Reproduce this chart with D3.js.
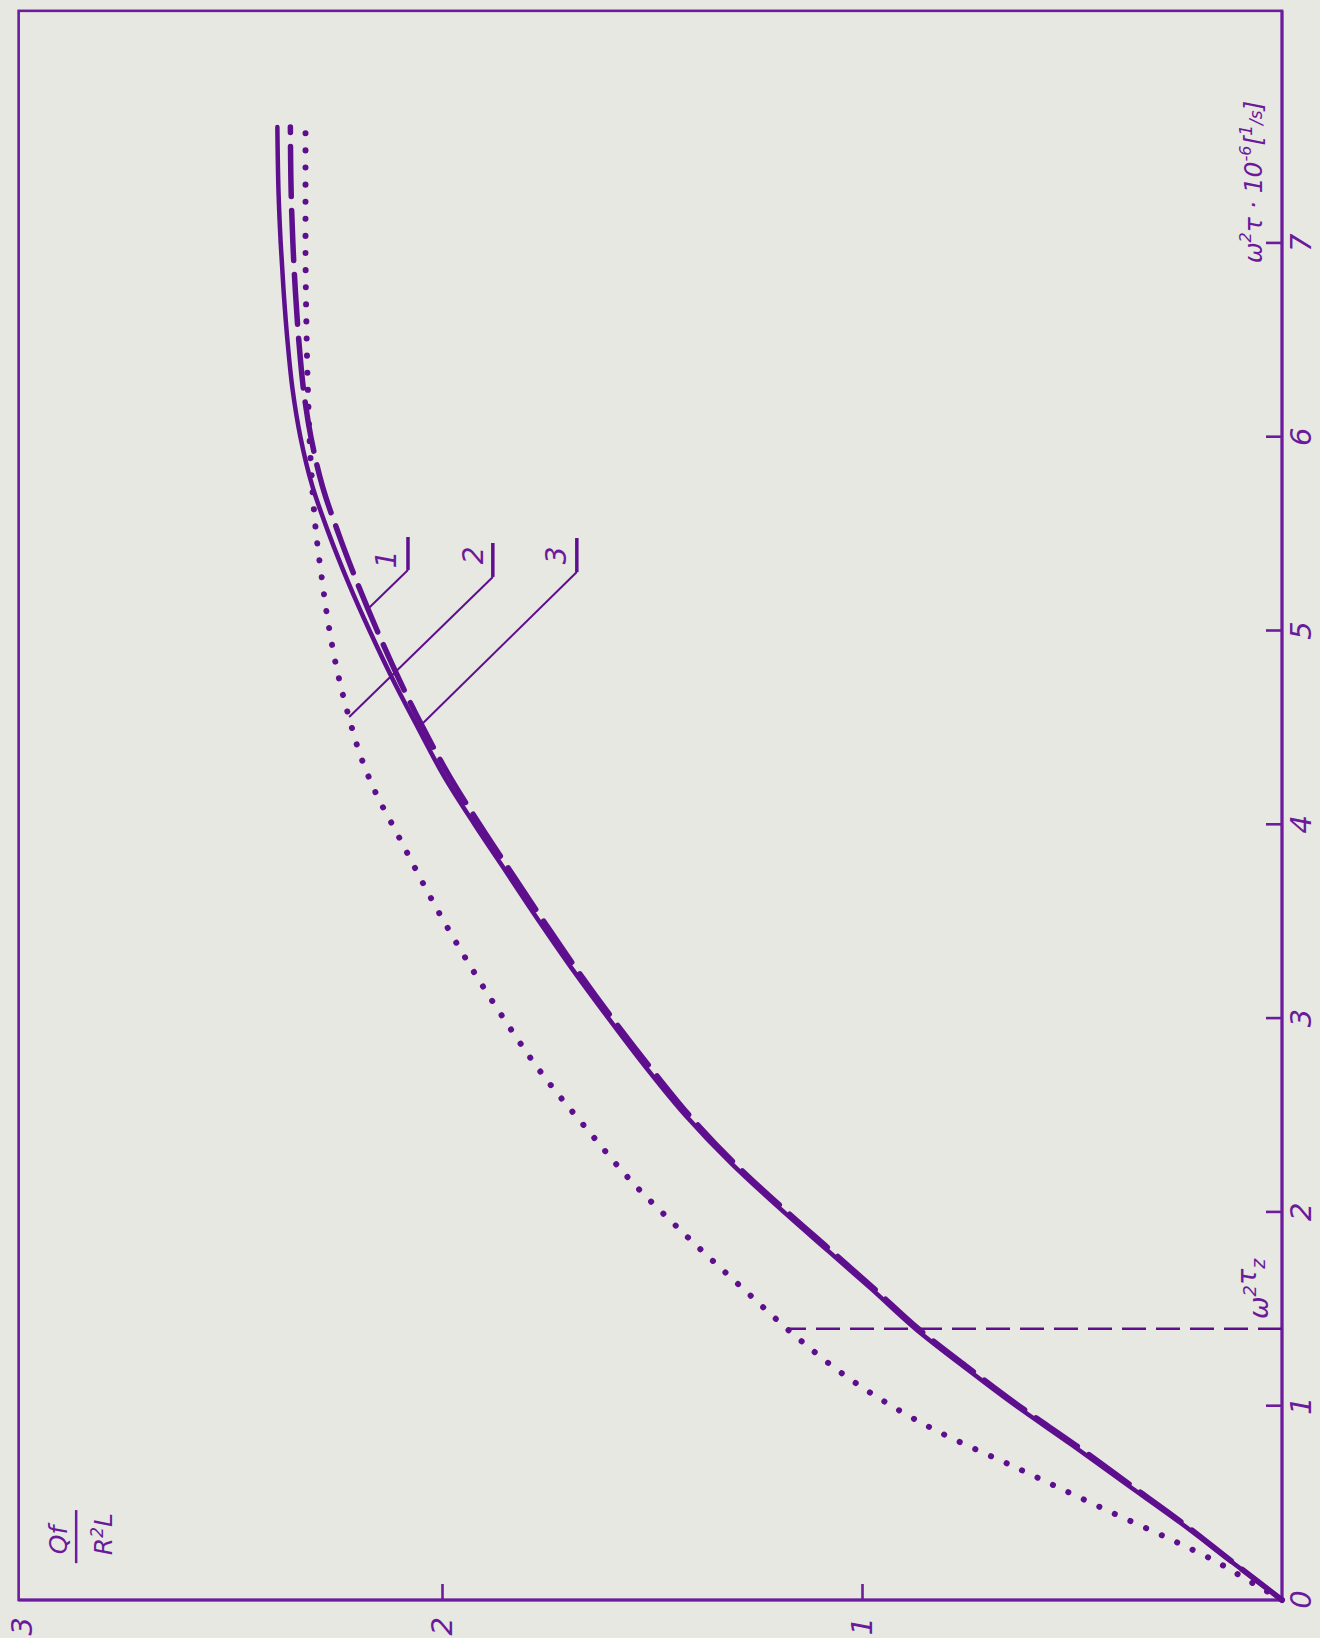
<!DOCTYPE html>
<html>
<head>
<meta charset="utf-8">
<script src="https://cdn.jsdelivr.net/npm/d3@7"></script>
<style>
  html, body { margin: 0; padding: 0; background: #e8e8e3; }
  svg { display: block; }
  text { font-family: "DejaVu Sans", sans-serif; font-style: italic; fill: #6a1a9a; }
</style>
</head>
<body>
<svg id="chart" width="1320" height="1638"></svg>
<script>
// ---- data (x: ω²τ·10⁻⁶ [1/s], y: Qf / R²L) ----
const xTicks = [0, 1, 2, 3, 4, 5, 6, 7];
const yTicks = [1, 2, 3];
const xTickLabels = ["0", "1", "2", "3", "4", "5", "6", "7"];
const yTickLabels = ["1", "2", "3"];

const solidCurve = [
  [0, 0], [0.2, 0.122], [0.4, 0.243], [0.6, 0.372], [0.8, 0.5], [1.0, 0.632],
  [1.2, 0.755], [1.4, 0.873], [1.6, 0.975], [1.8, 1.08], [2.0, 1.185],
  [2.25, 1.31], [2.5, 1.42], [2.75, 1.515], [3.0, 1.603], [3.25, 1.688],
  [3.5, 1.768], [3.75, 1.845], [4.0, 1.922], [4.25, 1.995], [4.5, 2.057],
  [4.75, 2.117], [5.0, 2.172], [5.25, 2.223], [5.5, 2.269], [5.75, 2.309],
  [6.0, 2.337], [6.25, 2.356], [6.5, 2.368], [6.75, 2.377], [7.0, 2.384],
  [7.25, 2.389], [7.6, 2.392]
];
const dashedCurve = [
  [0, 0], [0.2, 0.12], [0.4, 0.238], [0.6, 0.365], [0.8, 0.492], [1.0, 0.625],
  [1.2, 0.748], [1.4, 0.866], [1.6, 0.968], [1.8, 1.072], [2.0, 1.177],
  [2.25, 1.302], [2.5, 1.411], [2.75, 1.505], [3.0, 1.594], [3.25, 1.678],
  [3.5, 1.757], [3.75, 1.834], [4.0, 1.91], [4.25, 1.982], [4.5, 2.045],
  [4.75, 2.102], [5.0, 2.154], [5.25, 2.202], [5.5, 2.246], [5.75, 2.285],
  [6.0, 2.312], [6.25, 2.33], [6.5, 2.341], [6.75, 2.349], [7.0, 2.355],
  [7.25, 2.359], [7.6, 2.361]
];
const dottedCurve = [
  [0, 0], [0.1, 0.08], [0.21, 0.167], [0.29, 0.243], [0.475, 0.429], [0.68, 0.63],
  [0.877, 0.826], [1.115, 1.012], [1.35, 1.152], [1.6, 1.28], [1.92, 1.438],
  [2.13, 1.536], [2.43, 1.655], [2.71, 1.76], [3.03, 1.862], [3.5, 1.995],
  [4.0, 2.118], [4.13, 2.15], [4.35, 2.193], [4.55, 2.221], [4.79, 2.249],
  [5.03, 2.27], [5.27, 2.286], [5.51, 2.3], [5.85, 2.312], [6.22, 2.319],
  [6.6, 2.323], [7.0, 2.325], [7.6, 2.325]
];

// marker ω²τz
const omegaTauZ = 1.4;
const omegaTauZTop = 1.176;

// curve labels with leader lines
const curveLabels = [
  { label: "1", top: [5.485, 2.081], bottom: [5.315, 2.081], end: [5.108, 2.179], text: [5.37, 2.133] },
  { label: "2", top: [5.454, 1.879], bottom: [5.279, 1.879], end: [4.556, 2.221], text: [5.39, 1.926] },
  { label: "3", top: [5.48, 1.679], bottom: [5.304, 1.679], end: [4.525, 2.045], text: [5.39, 1.729] }
];

const xMax = 8.2;   // frame extent along x
const yMax = 3.008; // frame extent along y

// ---- layout ----
const C = "#5e0f8e";
const CF = "#6c1c9c";
const originPX = 1282, originPY = 1600;

const svg = d3.select("#chart");
svg.append("rect").attr("width", 1320).attr("height", 1638).attr("fill", "#e8e8e3");

// chart drawn in normal orientation, rotated -90° as in the original
const g = svg.append("g").attr("transform", `translate(${originPX},${originPY}) rotate(-90)`);

const x = d3.scaleLinear().domain([0, 7]).range([0, 1356.6]);
const y = d3.scaleLinear().domain([0, 2]).range([0, -840]);

// frame
g.append("rect")
  .attr("x", 0).attr("y", y(yMax))
  .attr("width", x(xMax)).attr("height", -y(yMax))
  .attr("fill", "none").attr("stroke", CF).attr("stroke-width", 2.6);
g.append("line").attr("x1", 0).attr("x2", x(xMax)).attr("y1", 0).attr("y2", 0)
  .attr("stroke", CF).attr("stroke-width", 3);
g.append("line").attr("x1", 0).attr("x2", 0).attr("y1", 0).attr("y2", y(yMax))
  .attr("stroke", CF).attr("stroke-width", 3.2);

// x axis (right side of the page)
const xAxis = d3.axisBottom(x).tickValues(xTicks)
  .tickFormat((d, i) => xTickLabels[i])
  .tickSizeInner(-16).tickSizeOuter(0).tickPadding(8);
const gx = g.append("g").call(xAxis);
gx.select(".domain").remove();
gx.selectAll(".tick line").attr("stroke", CF).attr("stroke-width", 2.6);
gx.selectAll(".tick text").attr("font-size", 29).attr("font-family", null).attr("fill", CF);
gx.selectAll(".tick").filter(d => d === 0).select("line").remove();

// y axis (bottom of the page)
const yAxis = d3.axisLeft(y).tickValues(yTicks)
  .tickFormat((d, i) => yTickLabels[i])
  .tickSizeInner(-16).tickSizeOuter(0).tickPadding(17);
const gy = g.append("g").call(yAxis);
gy.select(".domain").remove();
gy.selectAll(".tick line").attr("stroke", CF).attr("stroke-width", 2.6);
gy.selectAll(".tick text").attr("font-size", 29).attr("font-family", null).attr("fill", CF);
gy.selectAll(".tick").filter(d => d === 3).select("line").remove();

// curves
const line = d3.line().x(d => x(d[0])).y(d => y(d[1])).curve(d3.curveMonotoneX);

g.append("path").datum(dottedCurve).attr("d", line)
  .attr("fill", "none").attr("stroke", C).attr("stroke-width", 6)
  .attr("stroke-linecap", "round").attr("stroke-dasharray", "0.1 17");

g.append("path").datum(dashedCurve).attr("d", line)
  .attr("fill", "none").attr("stroke", C).attr("stroke-width", 5.5)
  .attr("stroke-linecap", "round").attr("stroke-dasharray", "50 14");

g.append("path").datum(solidCurve).attr("d", line)
  .attr("fill", "none").attr("stroke", C).attr("stroke-width", 4.5)
  .attr("stroke-linecap", "round");

// ω²τz dashed marker
g.append("line")
  .attr("x1", x(omegaTauZ)).attr("x2", x(omegaTauZ))
  .attr("y1", y(0)).attr("y2", y(omegaTauZTop))
  .attr("stroke", C).attr("stroke-width", 2.6).attr("stroke-dasharray", "24 10");

const tz = g.append("text").attr("x", x(1.45)).attr("y", y(0.033)).attr("font-size", 27);
tz.append("tspan").text("ω");
tz.append("tspan").attr("dy", -12).attr("font-size", 18).text("2");
tz.append("tspan").attr("dy", 0).text("τ");
tz.append("tspan").attr("dy", 9).attr("font-size", 19).text("z");

// axis title on x
const tx = g.append("text").attr("x", x(7.317)).attr("y", y(0.048))
  .attr("text-anchor", "middle").attr("font-size", 25);
tx.append("tspan").text("ω");
tx.append("tspan").attr("dy", -11).attr("font-size", 16).text("2");
tx.append("tspan").attr("dy", 11).text("τ · 10");
tx.append("tspan").attr("dy", -11).attr("font-size", 16).text("-6");
tx.append("tspan").attr("dy", 11).text("[");
tx.append("tspan").attr("font-size", 17).attr("dy", -10).text("1");
tx.append("tspan").attr("font-size", 17).attr("dy", 10).text("/s");
tx.append("tspan").text("]");

// axis title on y (fraction Qf / R²L)
g.append("text").attr("x", x(0.31)).attr("y", y(2.893))
  .attr("text-anchor", "middle").attr("font-size", 25).text("Qf");
g.append("line")
  .attr("x1", x(0.19)).attr("x2", x(0.464))
  .attr("y1", y(2.871)).attr("y2", y(2.871))
  .attr("stroke", CF).attr("stroke-width", 2.5);
const den = g.append("text").attr("x", x(0.34)).attr("y", y(2.786))
  .attr("text-anchor", "middle").attr("font-size", 25);
den.append("tspan").text("R");
den.append("tspan").attr("dy", -9).attr("font-size", 17).text("2");
den.append("tspan").attr("dy", 9).text("L");

// curve labels and leaders
curveLabels.forEach(c => {
  g.append("line")
    .attr("x1", x(c.top[0])).attr("y1", y(c.top[1]))
    .attr("x2", x(c.bottom[0])).attr("y2", y(c.bottom[1]))
    .attr("stroke", C).attr("stroke-width", 3.5);
  g.append("line")
    .attr("x1", x(c.bottom[0])).attr("y1", y(c.bottom[1]))
    .attr("x2", x(c.end[0])).attr("y2", y(c.end[1]))
    .attr("stroke", C).attr("stroke-width", 2);
  g.append("text").attr("x", x(c.text[0])).attr("y", y(c.text[1]))
    .attr("text-anchor", "middle").attr("dy", "0.36em")
    .attr("font-size", 28).text(c.label);
});
</script>
</body>
</html>
